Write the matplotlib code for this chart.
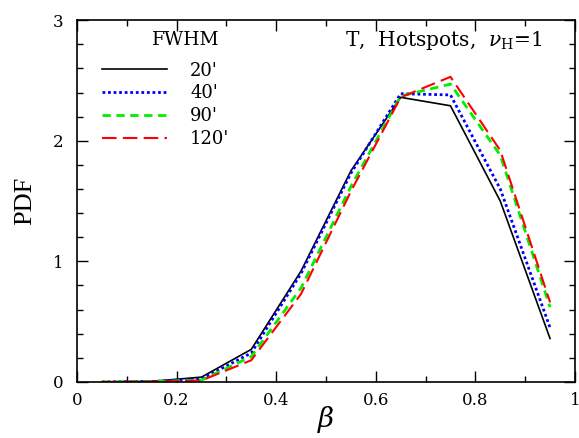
import numpy as np
import matplotlib
matplotlib.use("Agg")
import matplotlib.pyplot as plt
from matplotlib.ticker import MultipleLocator
from matplotlib.lines import Line2D

# bin centres of beta
beta = [0.05, 0.15, 0.25, 0.35, 0.45, 0.55, 0.65, 0.75, 0.85, 0.95]

# PDF values per smoothing scale
pdf20 = [0.0, 0.005, 0.04, 0.27, 0.92, 1.75, 2.36, 2.29, 1.50, 0.36]
pdf40 = [0.0, 0.004, 0.025, 0.24, 0.90, 1.73, 2.39, 2.38, 1.60, 0.45]
pdf90 = [0.0, 0.003, 0.015, 0.21, 0.78, 1.62, 2.37, 2.47, 1.88, 0.62]
pdf120 = [0.0, 0.003, 0.012, 0.18, 0.73, 1.58, 2.36, 2.53, 1.92, 0.66]

labels = ["20'", "40'", "90'", "120'"]

plt.rcParams['font.family'] = ['DejaVu Serif']
plt.rcParams['mathtext.fontset'] = 'dejavuserif'

fig = plt.figure(figsize=(5.79, 4.38), dpi=100)
ax = fig.add_axes([0.133, 0.128, 0.860, 0.826])

styles = [
    dict(color="black", linestyle="-", linewidth=1.2),
    dict(color="blue", linestyle=(0, (1, 1)), linewidth=2.0),
    dict(color="#00ee00", linestyle=(0, (3, 2)), linewidth=2.0),
    dict(color="red", linestyle=(0, (7, 3)), linewidth=1.5),
]
series = [pdf20, pdf40, pdf90, pdf120]

for values, st in zip(series, styles):
    ax.plot(beta, values, **st)

ax.set_xlim(0, 1)
ax.set_ylim(0, 3)
ax.xaxis.set_minor_locator(MultipleLocator(0.1))
ax.yaxis.set_minor_locator(MultipleLocator(0.2))
ax.set_xticks([0, 0.2, 0.4, 0.6, 0.8, 1])
ax.set_xticklabels(["0", "0.2", "0.4", "0.6", "0.8", "1"])
ax.set_yticks([0, 1, 2, 3])
ax.set_yticklabels(["0", "1", "2", "3"])
ax.tick_params(which="both", direction="in", top=True, right=True, labelsize=12)
ax.tick_params(which="major", length=8, width=1)
ax.tick_params(which="minor", length=4, width=1)
ax.tick_params(axis="x", pad=7)
ax.tick_params(axis="y", pad=10)
for sp in ax.spines.values():
    sp.set_linewidth(1.2)

ax.set_xlabel(r"$\beta$", fontsize=20, labelpad=-3)
ax.set_ylabel("PDF", fontsize=19, family="Liberation Serif", labelpad=12)

handles = [Line2D([0], [0], **st) for st in styles]
leg = ax.legend(handles, labels, loc="upper left",
                bbox_to_anchor=(0.035, 0.905), frameon=False, fontsize=13,
                handlelength=3.6, handletextpad=1.3,
                labelspacing=0.26, borderaxespad=0.0)
ax.text(0.219, 0.945, "FWHM", transform=ax.transAxes,
        ha="center", va="center", fontsize=13.5)

ax.text(0.935, 0.945, r"T,  Hotspots,  $\nu_{\rm H}$=1", transform=ax.transAxes,
        ha="right", va="center", fontsize=14.5)

fig.savefig("out.png", dpi=100)
